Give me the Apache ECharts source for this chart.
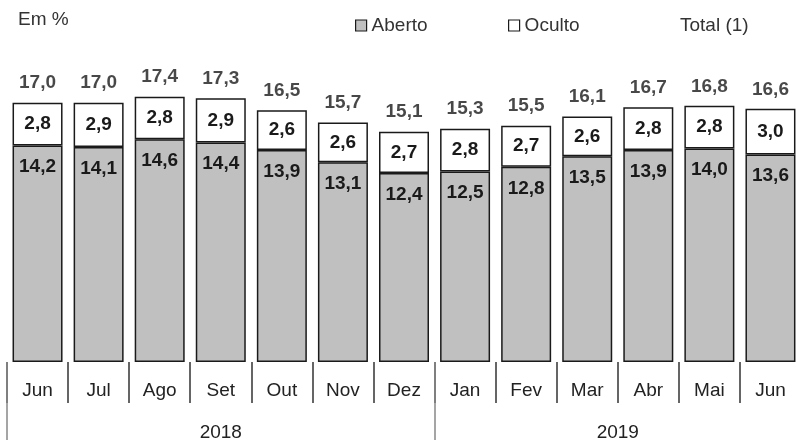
<!DOCTYPE html>
<html>
<head>
<meta charset="utf-8">
<script src="https://cdn.jsdelivr.net/npm/echarts@6/dist/echarts.min.js"></script>
<style>
html,body{margin:0;padding:0;background:#fff;overflow:hidden;width:796px;height:444px;}
#c{width:801px;height:444px;}
</style>
</head>
<body>
<div id="c"></div>
<script>
var months = ['Jun','Jul','Ago','Set','Out','Nov','Dez','Jan','Fev','Mar','Abr','Mai','Jun'];
var aberto = [14.2,14.1,14.6,14.4,13.9,13.1,12.4,12.5,12.8,13.5,13.9,14.0,13.6];
var oculto = [2.8,2.9,2.8,2.9,2.6,2.6,2.7,2.8,2.7,2.6,2.8,2.8,3.0];
var total = [17.0,17.0,17.4,17.3,16.5,15.7,15.1,15.3,15.5,16.1,16.7,16.8,16.6];
var years = ['2018','2019'];
var yearStart = [0, 7];   // index of first month of each year
var yearLen = [7, 6];     // number of months of each year

// half-category axis for year labels and separators
var halfCount = months.length * 2 + 1;
var yearAxisData = [];
var yearLabelIdx = {};
var yearSepIdx = {};
for (var i = 0; i < halfCount; i++) yearAxisData.push('');
for (var y = 0; y < years.length; y++) {
  var center = yearStart[y] * 2 + yearLen[y];
  yearAxisData[center] = years[y];
  yearLabelIdx[center] = true;
  yearSepIdx[yearStart[y] * 2] = true;
}

function fmt(v) { return v.toFixed(1).replace('.', ','); }

var FONT = '"Liberation Sans", Arial, sans-serif';
var chart = echarts.init(document.getElementById('c'), null, {renderer: 'canvas'});
var legendText = {fontFamily: FONT, fontSize: 19, color: '#333'};
chart.setOption({
  animation: false,
  backgroundColor: '#fff',
  title: {
    text: 'Em %', left: 13, top: 5,
    textStyle: {fontFamily: FONT, fontSize: 19, fontWeight: 'normal', color: '#333'}
  },
  legend: [
    {data: ['Aberto'], left: 350, top: 11, itemWidth: 11, itemHeight: 11, icon: 'rect',
     itemStyle: {borderWidth: 1.2}, textStyle: legendText},
    {data: ['Oculto'], left: 503, top: 11, itemWidth: 11, itemHeight: 11, icon: 'rect',
     itemStyle: {borderWidth: 1.2}, textStyle: legendText},
    {data: ['Total (1)'], left: 659, top: 11, itemWidth: 11, itemHeight: 11, icon: 'rect',
     textStyle: legendText}
  ],
  grid: {left: 7, top: 57, width: 794, height: 305, containLabel: false},
  xAxis: [
    {
      type: 'category', data: months, position: 'bottom',
      axisLine: {show: false},
      axisTick: {show: true, interval: 0, length: 41, lineStyle: {color: '#333', width: 1.5}},
      axisLabel: {interval: 0, margin: 19, fontFamily: FONT, fontSize: 19, color: '#222'}
    },
    {
      type: 'category', data: yearAxisData, position: 'bottom', boundaryGap: false,
      axisLine: {show: false},
      axisTick: {show: true, length: 78, lineStyle: {color: '#888', width: 1.5},
                 interval: function (idx) { return !!yearSepIdx[idx]; }},
      axisLabel: {margin: 61, fontFamily: FONT, fontSize: 19, color: '#222',
                  interval: function (idx) { return !!yearLabelIdx[idx]; }}
    }
  ],
  yAxis: {type: 'value', min: 0, max: 20, show: false, splitLine: {show: false}},
  series: [
    {
      name: 'Aberto', type: 'bar', stack: 's', data: aberto, barWidth: 50,
      itemStyle: {color: '#c0c0c0', borderColor: '#1a1a1a', borderWidth: 1.5},
      label: {show: true, position: 'insideTop', distance: 12,
              formatter: function (p) { return fmt(p.value); },
              fontFamily: FONT, fontSize: 19, fontWeight: 'bold', color: '#1a1a1a'}
    },
    {
      name: 'Oculto', type: 'bar', stack: 's', data: oculto, barWidth: 50,
      itemStyle: {color: '#ffffff', borderColor: '#1a1a1a', borderWidth: 1.5},
      label: {show: true, position: 'inside',
              formatter: function (p) { return fmt(p.value); },
              fontFamily: FONT, fontSize: 19, fontWeight: 'bold', color: '#1a1a1a'}
    },
    {
      name: 'Total (1)', type: 'scatter', data: total, symbolSize: 0,
      itemStyle: {color: 'rgba(0,0,0,0)'},
      label: {show: true, position: 'top', distance: 10,
              formatter: function (p) { return fmt(p.value); },
              fontFamily: FONT, fontSize: 19, fontWeight: 'bold', color: '#1a1a1a'}
    }
  ]
});
</script>
</body>
</html>
